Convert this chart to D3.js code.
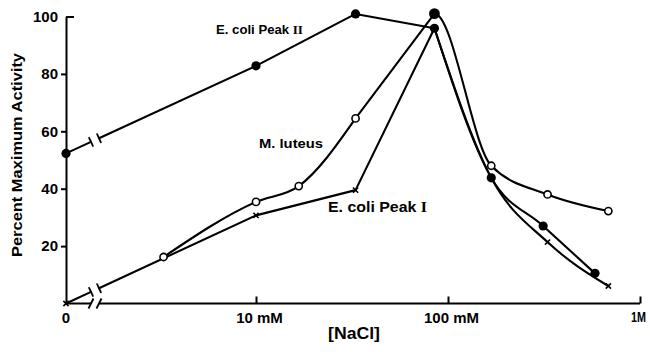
<!DOCTYPE html>
<html>
<head>
<meta charset="utf-8">
<script src="https://cdn.jsdelivr.net/npm/d3@7"></script>
<style>
  body { margin: 0; background: #fff; }
  text { font-family: "Liberation Sans", Arial, sans-serif; font-weight: bold; fill: #000; }
</style>
</head>
<body>
<svg id="chart" width="650" height="352"></svg>
<script>
// NaCl concentration in mM; 0 is the salt-free assay plotted left of the axis break
const peak2Conc = [0, 10, 33, 85, 168, 313, 583];
const peak2Activity = [52.3, 82.8, 100.9, 95.9, 43.8, 27, 10.5];

const luteusConc = [3.3, 10, 16.7, 33, 85, 168, 330, 684];
const luteusActivity = [16.2, 35.4, 40.9, 64.5, 101, 48, 38, 32.2];

const peak1Conc = [0, 10, 33, 85, 168, 330, 684];
const peak1Activity = [0, 30.7, 39.5, 95.9, 43.8, 21.4, 6.1];

const yTicks = [20, 40, 60, 80, 100];
const xTicks = [10, 100, 1000];
const xTickLabels = ["10 mM", "100 mM", "1M"];

const svg = d3.select("#chart");
const defs = svg.append("defs");

// log scale for the salt range, with a separate spot for "0" before the break
const x = d3.scaleLog().domain([10, 1000]).range([256, 640]);
const y = d3.scaleLinear().domain([0, 100]).range([303.5, 16.5]);
const xZero = 66;
const breakL = 91, breakR = 99;
const pos = c => (c === 0 ? xZero : x(c));

const ink = "#000";

// ---- y axis ----
const yAxis = svg.append("g")
  .attr("transform", `translate(${xZero},0)`)
  .call(d3.axisLeft(y).tickValues(yTicks).tickSize(5).tickSizeOuter(0).tickPadding(3));
yAxis.select(".domain").attr("stroke", ink).attr("stroke-width", 2);
yAxis.selectAll(".tick line").attr("stroke", ink).attr("stroke-width", 2)
  .filter(d => d === 100).attr("x2", 8);
yAxis.selectAll(".tick text").style("font-size", "15px").attr("font-family", null);

// ---- x axis (broken between 0 and the log range) ----
const xAxis = svg.append("g")
  .attr("transform", `translate(0,${y(0)})`)
  .call(d3.axisBottom(x).tickValues(xTicks).tickSize(-7).tickPadding(9)
    .tickFormat((d, i) => xTickLabels[i]));
xAxis.select(".domain").remove();
xAxis.selectAll(".tick line").attr("stroke", ink).attr("stroke-width", 2);
xAxis.selectAll(".tick text").style("font-size", "15px").attr("font-family", null)
  .attr("dx", d => (d === 1000 ? -2 : 3));
xAxis.selectAll(".tick text").filter(d => d === 1000)
  .style("font-size", "14px")
  .attr("textLength", 15).attr("lengthAdjust", "spacingAndGlyphs");

const plain = d3.line();
svg.append("path").attr("d", plain([[xZero - 1, y(0)], [breakL, y(0)]]))
  .attr("stroke", ink).attr("stroke-width", 2).attr("fill", "none");
svg.append("path").attr("d", plain([[breakR, y(0)], [x(1000), y(0)]]))
  .attr("stroke", ink).attr("stroke-width", 2).attr("fill", "none");
[breakL, breakR].forEach(bx => {
  svg.append("path").attr("d", plain([[bx - 2.5, y(0) + 5], [bx + 2.5, y(0) - 5]]))
    .attr("stroke", ink).attr("stroke-width", 1.8).attr("fill", "none");
});
xAxis.append("text").attr("x", xZero).attr("y", 9).attr("dy", "0.71em")
  .attr("text-anchor", "middle").style("font-size", "15px").text("0");

// axis titles
svg.append("text")
  .attr("transform", "translate(22,155) rotate(-90)")
  .attr("text-anchor", "middle").style("font-size", "14px")
  .attr("textLength", 204).attr("lengthAdjust", "spacingAndGlyphs")
  .text("Percent Maximum Activity");
svg.append("text")
  .attr("x", 328).attr("y", 339).style("font-size", "16px")
  .attr("textLength", 52).attr("lengthAdjust", "spacingAndGlyphs")
  .text("[NaCl]");

// ---- curves ----
// each series is drawn in pieces: straight runs, local smooth runs, and
// runs cut out of one smooth curve through all of the series' points
const series = [
  { id: "peak2", conc: peak2Conc, act: peak2Activity,
    pieces: [[1, 3, "linear"], [3, 6, "smooth"]] },
  { id: "luteus", conc: luteusConc, act: luteusActivity,
    pieces: [[0, 3, "smooth"], [3, 4, "linear"], [4, 7, "smoothAll"]] },
  { id: "peak1", conc: peak1Conc, act: peak1Activity,
    pieces: [[1, 3, "linear"], [3, 6, "smooth"]] }
];

const straight = d3.line().x(d => pos(d[0])).y(d => y(d[1]));
const smooth = d3.line().x(d => pos(d[0])).y(d => y(d[1])).curve(d3.curveMonotoneX);

const lines = svg.append("g").attr("fill", "none").attr("stroke", ink)
  .attr("stroke-width", 2.1).attr("stroke-linejoin", "round").attr("stroke-linecap", "round");

series.forEach(s => {
  const pts = s.conc.map((c, i) => [c, s.act[i]]);
  if (pts[0][0] === 0) {
    // salt-free point joined across the break with a gap and break ticks
    const p0 = [pos(pts[0][0]), y(pts[0][1])];
    const p1 = [pos(pts[1][0]), y(pts[1][1])];
    const at = px => d3.interpolate(p0, p1)((px - p0[0]) / (p1[0] - p0[0]));
    const pL = at(breakL), pR = at(breakR);
    lines.append("path").attr("d", plain([p0, pL]));
    lines.append("path").attr("d", plain([pR, p1]));
    const dx = p1[0] - p0[0], dy = p1[1] - p0[1], len = Math.hypot(dx, dy);
    const nx = -dy / len * 4.5, ny = dx / len * 4.5;
    [pL, pR].forEach(p => {
      lines.append("path").attr("d", plain([[p[0] - nx, p[1] - ny], [p[0] + nx, p[1] + ny]]))
        .attr("stroke-width", 1.8);
    });
  }
  const logPts = pts.filter(p => p[0] > 0);
  s.pieces.forEach(([i0, i1, kind], k) => {
    const run = pts.slice(i0, i1 + 1);
    if (kind === "linear") {
      lines.append("path").attr("d", straight(run));
    } else if (kind === "smooth") {
      lines.append("path").attr("d", smooth(run));
    } else {
      const cid = `clip-${s.id}-${k}`;
      defs.append("clipPath").attr("id", cid).append("rect")
        .attr("x", pos(pts[i0][0])).attr("y", 0)
        .attr("width", pos(pts[i1][0]) - pos(pts[i0][0]) + 3).attr("height", 352);
      lines.append("path").attr("d", smooth(logPts)).attr("clip-path", `url(#${cid})`);
    }
  });
});

// ---- markers ----
const marks = svg.append("g");

// E. coli Peak I: crosses
peak1Conc.forEach((c, i) => {
  const cx = pos(c), cy = y(peak1Activity[i]);
  marks.append("path")
    .attr("d", plain([[cx - 2.6, cy - 2.6], [cx + 2.6, cy + 2.6]]) + plain([[cx - 2.6, cy + 2.6], [cx + 2.6, cy - 2.6]]))
    .attr("stroke", ink).attr("stroke-width", 1.6).attr("fill", "none");
});

// M. luteus: open circles, its maximum drawn solid
const luteusTop = d3.maxIndex(luteusActivity);
marks.selectAll(".luteus").data(luteusConc).join("circle")
  .attr("class", "luteus")
  .attr("cx", d => pos(d))
  .attr("cy", (d, i) => y(luteusActivity[i]))
  .attr("r", (d, i) => (i === luteusTop ? 4.6 : 3.6))
  .attr("fill", (d, i) => (i === luteusTop ? ink : "#fff"))
  .attr("stroke", ink).attr("stroke-width", 1.6);

// E. coli Peak II: filled circles
marks.selectAll(".peak2").data(peak2Conc).join("circle")
  .attr("class", "peak2")
  .attr("cx", d => pos(d))
  .attr("cy", (d, i) => y(peak2Activity[i]))
  .attr("r", 4.6).attr("fill", ink);

// ---- series labels ----
const lbl1 = svg.append("text").attr("x", 216).attr("y", 34).style("font-size", "12px")
  .attr("textLength", 87).attr("lengthAdjust", "spacingAndGlyphs");
lbl1.append("tspan").text("E. coli Peak ");
lbl1.append("tspan").attr("font-family", "Liberation Serif").text("II");

svg.append("text").attr("x", 259).attr("y", 148).style("font-size", "13px")
  .attr("textLength", 64).attr("lengthAdjust", "spacingAndGlyphs")
  .text("M. luteus");

const lbl3 = svg.append("text").attr("x", 328).attr("y", 212).style("font-size", "14px")
  .attr("textLength", 99).attr("lengthAdjust", "spacingAndGlyphs");
lbl3.append("tspan").text("E. coli  Peak ");
lbl3.append("tspan").attr("font-family", "Liberation Serif").text("I");
</script>
</body>
</html>
